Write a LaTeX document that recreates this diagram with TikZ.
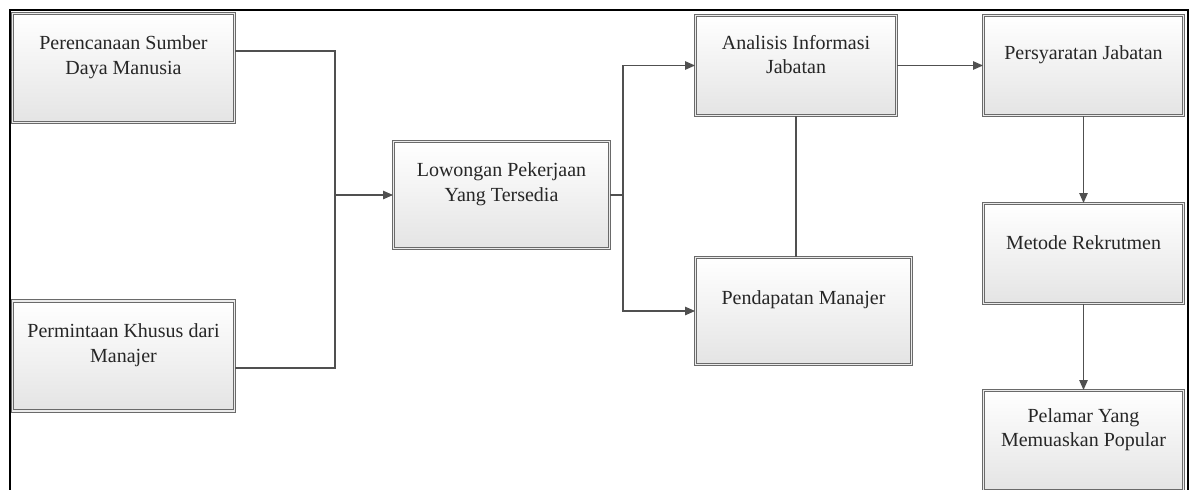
\documentclass[tikz,border=0pt]{standalone}
\usepackage{fontspec}
\setmainfont{Liberation Serif}
\usetikzlibrary{arrows.meta,shadows}
\definecolor{linegray}{HTML}{505050}
\definecolor{boxgray}{HTML}{6A6A6A}
\definecolor{txtgray}{HTML}{262626}
\definecolor{boxbot}{HTML}{E4E4E4}
\tikzset{
  flowbox/.style={rectangle, draw=boxgray, line width=1pt, double=white!92!black, double distance=1.8pt,
    top color=white, bottom color=boxbot, inner sep=0pt,
    drop shadow={opacity=0.12, shadow xshift=1.5pt, shadow yshift=-1.5pt}},
  boxtext/.style={align=center, text=txtgray, font=\fontsize{20}{24.5}\selectfont, yshift=11pt},
  conn/.style={draw=linegray, line width=1.2pt},
  arr/.style={conn, -{Triangle[length=10pt,width=8.5pt]}}
}
\begin{document}
\begin{tikzpicture}[x=1pt,y=-1pt]
\useasboundingbox (0,0) rectangle (1195,490);
\fill[white] (0,0) rectangle (1195,490);
% outer frame
\draw[black, line width=2.2pt] (10,492) -- (10,10) -- (1188,10) -- (1188,492);

\node[flowbox, minimum width=222pt, minimum height=109pt,
  label={[boxtext]center:Perencanaan Sumber\\Daya Manusia}] (psdm) at (123.5,68) {};
\node[flowbox, minimum width=222pt, minimum height=110pt,
  label={[boxtext]center:Permintaan Khusus dari\\Manajer}] (pkm) at (123.5,356) {};
\node[flowbox, minimum width=216pt, minimum height=107pt,
  label={[boxtext]center:Lowongan Pekerjaan\\Yang Tersedia}] (lpt) at (501.5,195) {};
\node[flowbox, minimum width=201pt, minimum height=100pt,
  label={[boxtext]center:Analisis Informasi\\Jabatan}] (aij) at (796,65.5) {};
\node[flowbox, minimum width=216pt, minimum height=107pt,
  label={[boxtext]center:Pendapatan Manajer}] (pm) at (803.5,311) {};
\node[flowbox, minimum width=200pt, minimum height=100pt,
  label={[boxtext]center:Persyaratan Jabatan}] (pj) at (1083.5,65.5) {};
\node[flowbox, minimum width=200pt, minimum height=100pt,
  label={[boxtext]center:Metode Rekrutmen}] (mr) at (1083.5,253.5) {};
\node[flowbox, minimum width=200pt, minimum height=100pt,
  label={[boxtext]center:Pelamar Yang\\Memuaskan Popular}] (pymp) at (1083.5,440.5) {};

\coordinate (j1) at (335,195);
\coordinate (j2) at (623,195);

\draw[conn] ([yshift=17pt]psdm.east) -| (j1);
\draw[conn] ([yshift=-12pt]pkm.east) -| (j1);
\draw[arr] (j1) -- (lpt.west);
\draw[conn] (lpt.east) -- (j2);
\draw[arr] (j2) |- (aij.west);
\draw[arr] (j2) |- (pm.west);
\draw[conn] (aij.south) -- (aij.south |- pm.north);
\draw[arr] (aij.east) -- (pj.west);
\draw[arr] (pj.south) -- (mr.north);
\draw[arr] (mr.south) -- (pymp.north);
\end{tikzpicture}
\end{document}
